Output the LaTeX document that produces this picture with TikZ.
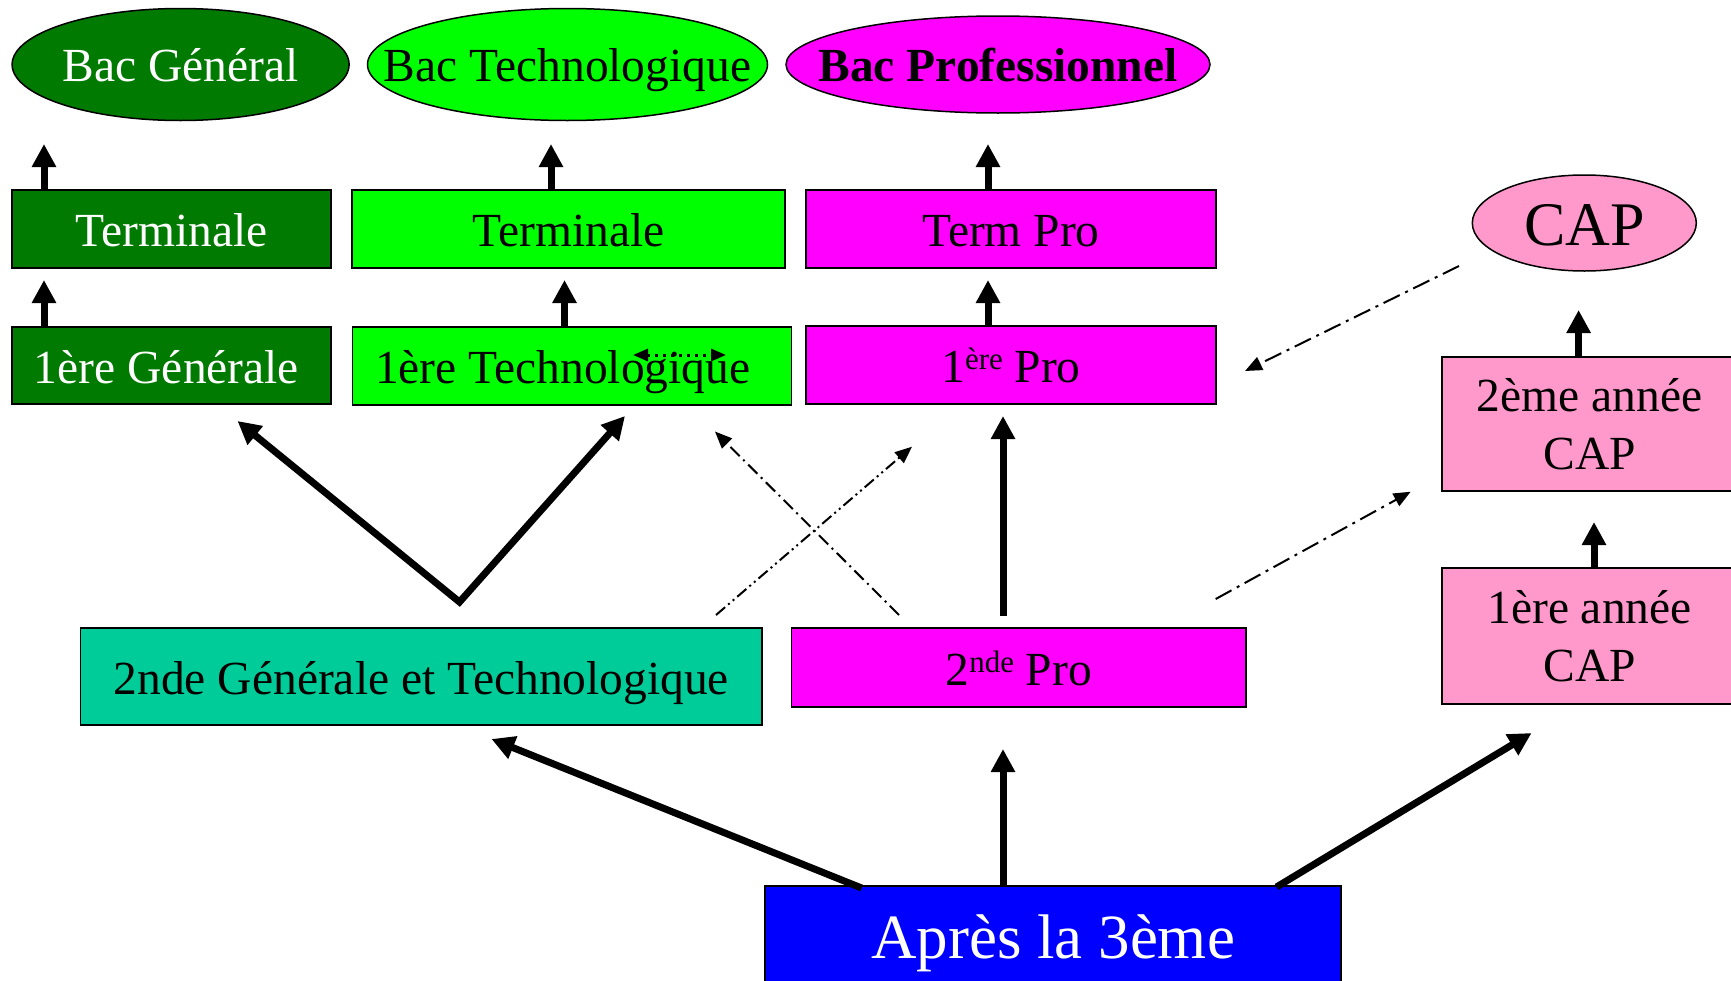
\documentclass[tikz,border=0pt]{standalone}
\usepackage{fontspec}
\setmainfont{Liberation Serif}
\usetikzlibrary{arrows.meta,shapes.geometric}
\definecolor{dkgreen}{HTML}{007A00}
\definecolor{ltgreen}{HTML}{00FF00}
\definecolor{mag}{HTML}{FF00FF}
\definecolor{capink}{HTML}{FF99CC}
\definecolor{tealgt}{HTML}{00CC99}
\definecolor{bluebox}{HTML}{0000FF}
\newcommand{\supx}[1]{\raisebox{13pt}{\fontsize{31}{34}\selectfont #1}}
\begin{document}
\begin{tikzpicture}[x=1pt,y=-1pt,
  every node/.style={font=\fontsize{47.5}{58}\selectfont, inner sep=0pt, outer sep=0pt},
  box/.style={draw=black, line width=1.5pt, rectangle, text height=39pt, text depth=4pt},
  boxtwo/.style={draw=black, line width=1.5pt, rectangle, align=center},
  oval/.style={draw=black, line width=1.5pt, ellipse, text height=38pt, text depth=4pt},
  bigarrow/.style={line width=7pt, -{Triangle[length=23pt,width=23pt]}},
  smallarrow/.style={line width=7pt, -{Triangle[length=23pt,width=23pt]}},
  dasharrow/.style={line width=2pt, -{Triangle[length=17pt,width=14pt]}},
  dd/.style={dash pattern=on 13pt off 5pt on 2pt off 5pt},
  ddd/.style={dash pattern=on 12pt off 4pt on 2pt off 4pt on 2pt off 4pt},
  ddl/.style={dash pattern=on 18pt off 6pt on 3pt off 6pt}
]
\useasboundingbox (0,0) rectangle (1731,980);

% ellipses
\node[oval, fill=dkgreen, text=white, minimum width=337pt, minimum height=112pt] (bacG) at (180.6,64.5) {\makebox[0pt]{Bac Général}};
\node[oval, fill=ltgreen, minimum width=400pt, minimum height=112pt] (bacT) at (567.5,64.5) {\makebox[0pt]{Bac Technologique}};
\node[oval, fill=mag, minimum width=424pt, minimum height=97pt] (bacP) at (998,64.5) {\makebox[0pt]{\bfseries Bac Professionnel}};
\node[oval, fill=capink, minimum width=224pt, minimum height=96pt, font=\fontsize{62}{70}\selectfont, text height=48pt, text depth=4pt] (cap) at (1584.3,223) {\makebox[0pt]{CAP}};

% boxes
\node[box, fill=dkgreen, text=white, minimum width=319pt, minimum height=78pt] (termG) at (171.5,229) {Terminale};
\node[box, fill=ltgreen, minimum width=433pt, minimum height=78pt] (termT) at (568.5,229) {Terminale};
\node[box, fill=mag, minimum width=410pt, minimum height=78pt] (termP) at (1011,229) {Term Pro};
\node[box, fill=dkgreen, text=white, minimum width=319pt, minimum height=77pt] (premG) at (171.5,365.5) {1ère Générale\hspace{10pt}\mbox{}};
\node[box, fill=ltgreen, minimum width=439pt, minimum height=78pt] (premT) at (572.2,366) {1ère Technologique\hspace{19pt}\mbox{}};
\node[box, fill=mag, minimum width=410pt, minimum height=78pt] (premP) at (1011,365) {1\supx{ère} Pro};
\node[box, fill=tealgt, minimum width=681.4pt, minimum height=97pt] (secGT) at (421.3,676.5) {2nde Générale et Technologique};
\node[box, fill=mag, minimum width=454.5pt, minimum height=79pt] (secP) at (1018.7,667.5) {2\supx{nde} Pro};
\node[boxtwo, fill=capink, minimum width=295pt, minimum height=134pt] (capB) at (1589.5,424) {\raisebox{-2pt}{2ème année}\\\raisebox{-2pt}{CAP}};
\node[boxtwo, fill=capink, minimum width=295pt, minimum height=136pt] (capA) at (1589.5,636) {\raisebox{-1pt}{1ère année}\\\raisebox{-1pt}{CAP}};
\node[box, fill=bluebox, text=white, minimum width=576pt, minimum height=100pt, font=\fontsize{63}{70}\selectfont, text height=49pt, text depth=4.3pt] (apres) at (1053,936) {Après la 3ème};

% arrow end points
\coordinate (tBG) at (44,144);
\coordinate (tBT) at (551,144);
\coordinate (tBP) at (988,144);
\coordinate (tTG) at (44,280);
\coordinate (tTT) at (564.5,280);
\coordinate (tTP) at (988,280);
\coordinate (tCAP) at (1578.6,310);
\coordinate (tCB) at (1594,522);
\coordinate (vtx) at (459.5,602);
\coordinate (tPG) at (237.5,421);
\coordinate (tPT) at (625,416);
\coordinate (sPP) at (1003,616);
\coordinate (tPP) at (1003,416);
\coordinate (sAG) at (861.6,888);
\coordinate (tAG) at (491.5,739);
\coordinate (sAP) at (1003,886);
\coordinate (tAP) at (1003,749);
\coordinate (sAC) at (1276.5,887);
\coordinate (tAC) at (1531.6,733);
\coordinate (s1) at (899,615);
\coordinate (e1) at (715,431.5);
\coordinate (s2) at (716,615);
\coordinate (e2) at (912,446.7);
\coordinate (s3) at (1459,266);
\coordinate (e3) at (1245,371);
\coordinate (s4) at (1215.7,599);
\coordinate (e4) at (1410.7,491.7);
\coordinate (dl) at (633,355);
\coordinate (dr) at (726,355);

% short vertical arrows
\draw[smallarrow] (termG.north -| tBG) -- (tBG);
\draw[smallarrow] (termT.north -| tBT) -- (tBT);
\draw[smallarrow] (termP.north -| tBP) -- (tBP);
\draw[smallarrow] (premG.north -| tTG) -- (tTG);
\draw[smallarrow] (premT.north -| tTT) -- (tTT);
\draw[smallarrow] (premP.north -| tTP) -- (tTP);
\draw[smallarrow] (capB.north -| tCAP) -- (tCAP);
\draw[smallarrow] (capA.north -| tCB) -- (tCB);

% thick arrows
\draw[line width=7pt, line join=miter, {Triangle[length=23pt,width=23pt]}-{Triangle[length=23pt,width=23pt]}] (tPG) -- (vtx) -- (tPT);
\draw[bigarrow] (sPP) -- (tPP);
\draw[bigarrow] (sAG) -- (tAG);
\draw[bigarrow] (sAP) -- (tAP);
\draw[bigarrow] (sAC) -- (tAC);

% dash-dot arrows
\draw[dasharrow, dd] (s1) -- (e1);
\draw[dasharrow, ddd] (s2) -- (e2);
\draw[dasharrow, ddl] (s3) -- (e3);
\draw[dasharrow, ddl] (s4) -- (e4);

% small dotted double arrow
\draw[line width=3pt, dash pattern=on 3pt off 5pt, {Triangle[length=15pt,width=12pt]}-{Triangle[length=15pt,width=12pt]}] (dl) -- (dr);
\end{tikzpicture}
\end{document}
